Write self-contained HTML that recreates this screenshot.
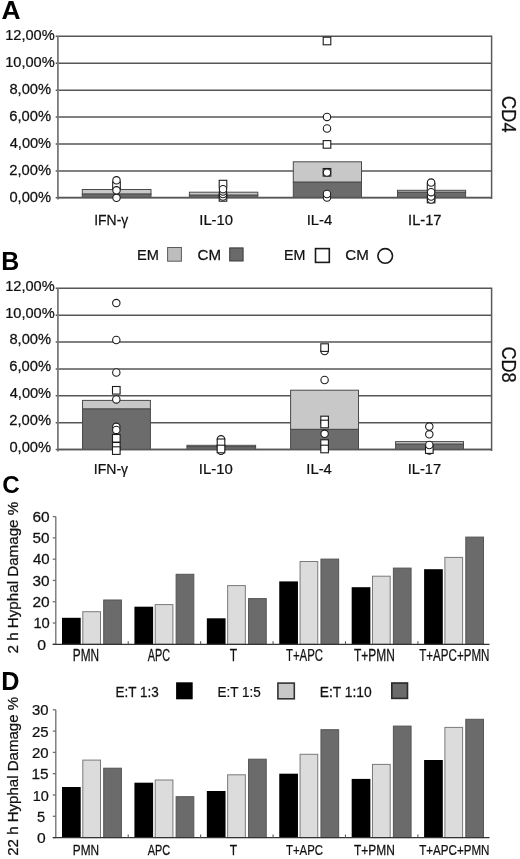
<!DOCTYPE html>
<html><head><meta charset="utf-8"><style>
html,body{margin:0;padding:0;background:#fff;}
svg{display:block;will-change:transform;font-family:"Liberation Sans",sans-serif;}
</style></head><body>
<svg width="520" height="859" viewBox="0 0 520 859">
<rect width="520" height="859" fill="#fff"/>
<line x1="55.70" y1="36.30" x2="491.60" y2="36.30" stroke="#565656" stroke-width="1.5"/>
<line x1="55.70" y1="63.22" x2="491.60" y2="63.22" stroke="#565656" stroke-width="1.5"/>
<line x1="55.70" y1="90.14" x2="491.60" y2="90.14" stroke="#565656" stroke-width="1.5"/>
<line x1="55.70" y1="117.06" x2="491.60" y2="117.06" stroke="#565656" stroke-width="1.5"/>
<line x1="55.70" y1="143.98" x2="491.60" y2="143.98" stroke="#565656" stroke-width="1.5"/>
<line x1="55.70" y1="170.90" x2="491.60" y2="170.90" stroke="#565656" stroke-width="1.5"/>
<line x1="55.70" y1="197.82" x2="491.60" y2="197.82" stroke="#565656" stroke-width="1.5"/>
<line x1="57.90" y1="36.30" x2="57.90" y2="199.50" stroke="#7a7a7a" stroke-width="1.8"/>
<line x1="491.60" y1="35.60" x2="491.60" y2="199.00" stroke="#5a5a5a" stroke-width="1.5"/>
<line x1="55.70" y1="288.30" x2="491.60" y2="288.30" stroke="#565656" stroke-width="1.5"/>
<line x1="55.70" y1="315.18" x2="491.60" y2="315.18" stroke="#565656" stroke-width="1.5"/>
<line x1="55.70" y1="342.06" x2="491.60" y2="342.06" stroke="#565656" stroke-width="1.5"/>
<line x1="55.70" y1="368.94" x2="491.60" y2="368.94" stroke="#565656" stroke-width="1.5"/>
<line x1="55.70" y1="395.82" x2="491.60" y2="395.82" stroke="#565656" stroke-width="1.5"/>
<line x1="55.70" y1="422.70" x2="491.60" y2="422.70" stroke="#565656" stroke-width="1.5"/>
<line x1="55.70" y1="449.58" x2="491.60" y2="449.58" stroke="#565656" stroke-width="1.5"/>
<line x1="57.90" y1="288.30" x2="57.90" y2="451.50" stroke="#7a7a7a" stroke-width="1.8"/>
<line x1="491.60" y1="287.60" x2="491.60" y2="451.00" stroke="#5a5a5a" stroke-width="1.5"/>
<rect x="82.30" y="189.50" width="68.70" height="4.60" fill="#c8c8c8" stroke="#4a4a4a" stroke-width="1"/>
<rect x="82.30" y="194.10" width="68.70" height="3.40" fill="#6c6c6c" stroke="#4a4a4a" stroke-width="1"/>
<rect x="189.40" y="192.20" width="68.40" height="3.00" fill="#c8c8c8" stroke="#4a4a4a" stroke-width="1"/>
<rect x="189.40" y="195.20" width="68.40" height="2.30" fill="#6c6c6c" stroke="#4a4a4a" stroke-width="1"/>
<rect x="293.30" y="161.80" width="68.20" height="20.40" fill="#c8c8c8" stroke="#4a4a4a" stroke-width="1"/>
<rect x="293.30" y="182.20" width="68.20" height="15.30" fill="#6c6c6c" stroke="#4a4a4a" stroke-width="1"/>
<rect x="397.50" y="190.30" width="68.10" height="2.00" fill="#c8c8c8" stroke="#4a4a4a" stroke-width="1"/>
<rect x="397.50" y="192.30" width="68.10" height="5.20" fill="#6c6c6c" stroke="#4a4a4a" stroke-width="1"/>
<line x1="57.90" y1="197.50" x2="491.60" y2="197.50" stroke="#565656" stroke-width="1.5"/>
<rect x="82.50" y="400.40" width="67.90" height="8.60" fill="#c8c8c8" stroke="#4a4a4a" stroke-width="1"/>
<rect x="82.50" y="409.00" width="67.90" height="40.50" fill="#6c6c6c" stroke="#4a4a4a" stroke-width="1"/>
<rect x="187.00" y="445.30" width="68.60" height="1.40" fill="#c8c8c8" stroke="#4a4a4a" stroke-width="1"/>
<rect x="187.00" y="446.70" width="68.60" height="2.80" fill="#6c6c6c" stroke="#4a4a4a" stroke-width="1"/>
<rect x="290.60" y="390.20" width="67.90" height="39.20" fill="#c8c8c8" stroke="#4a4a4a" stroke-width="1"/>
<rect x="290.60" y="429.40" width="67.90" height="20.10" fill="#6c6c6c" stroke="#4a4a4a" stroke-width="1"/>
<rect x="395.60" y="441.60" width="67.90" height="2.60" fill="#c8c8c8" stroke="#4a4a4a" stroke-width="1"/>
<rect x="395.60" y="444.20" width="67.90" height="5.30" fill="#6c6c6c" stroke="#4a4a4a" stroke-width="1"/>
<line x1="57.90" y1="449.50" x2="491.60" y2="449.50" stroke="#565656" stroke-width="1.5"/>
<rect x="112.70" y="181.70" width="7.60" height="7.60" fill="#fff" stroke="#1c1c1c" stroke-width="1.1"/>
<circle cx="116.50" cy="197.80" r="3.7" fill="#fff" stroke="#1c1c1c" stroke-width="1.1"/>
<circle cx="116.50" cy="190.30" r="3.7" fill="#fff" stroke="#1c1c1c" stroke-width="1.1"/>
<circle cx="116.50" cy="180.30" r="3.7" fill="#fff" stroke="#1c1c1c" stroke-width="1.1"/>
<rect x="219.20" y="180.30" width="7.60" height="7.60" fill="#fff" stroke="#1c1c1c" stroke-width="1.1"/>
<rect x="219.20" y="193.60" width="7.60" height="7.60" fill="#fff" stroke="#1c1c1c" stroke-width="1.1"/>
<circle cx="223.00" cy="196.50" r="3.7" fill="#fff" stroke="#1c1c1c" stroke-width="1.1"/>
<circle cx="223.00" cy="194.00" r="3.7" fill="#fff" stroke="#1c1c1c" stroke-width="1.1"/>
<circle cx="223.00" cy="191.50" r="3.7" fill="#fff" stroke="#1c1c1c" stroke-width="1.1"/>
<circle cx="223.00" cy="189.20" r="3.7" fill="#fff" stroke="#1c1c1c" stroke-width="1.1"/>
<rect x="323.20" y="37.20" width="7.60" height="7.60" fill="#fff" stroke="#1c1c1c" stroke-width="1.1"/>
<circle cx="327.00" cy="116.90" r="3.7" fill="#fff" stroke="#1c1c1c" stroke-width="1.1"/>
<circle cx="327.00" cy="128.50" r="3.7" fill="#fff" stroke="#1c1c1c" stroke-width="1.1"/>
<rect x="323.20" y="140.60" width="7.60" height="7.60" fill="#fff" stroke="#1c1c1c" stroke-width="1.1"/>
<rect x="323.20" y="168.50" width="7.60" height="7.60" fill="#fff" stroke="#1c1c1c" stroke-width="1.1"/>
<circle cx="327.00" cy="172.60" r="3.7" fill="#fff" stroke="#1c1c1c" stroke-width="1.1"/>
<circle cx="327.00" cy="197.50" r="3.7" fill="#fff" stroke="#1c1c1c" stroke-width="1.1"/>
<circle cx="327.00" cy="194.00" r="3.7" fill="#fff" stroke="#1c1c1c" stroke-width="1.1"/>
<rect x="427.30" y="195.20" width="7.60" height="7.60" fill="#fff" stroke="#1c1c1c" stroke-width="1.1"/>
<rect x="427.30" y="183.40" width="7.60" height="7.60" fill="#fff" stroke="#1c1c1c" stroke-width="1.1"/>
<circle cx="431.10" cy="199.50" r="3.7" fill="#fff" stroke="#1c1c1c" stroke-width="1.1"/>
<circle cx="431.10" cy="196.50" r="3.7" fill="#fff" stroke="#1c1c1c" stroke-width="1.1"/>
<circle cx="431.10" cy="192.20" r="3.7" fill="#fff" stroke="#1c1c1c" stroke-width="1.1"/>
<circle cx="431.10" cy="182.60" r="3.7" fill="#fff" stroke="#1c1c1c" stroke-width="1.1"/>
<circle cx="116.30" cy="303.10" r="3.7" fill="#fff" stroke="#1c1c1c" stroke-width="1.1"/>
<circle cx="116.30" cy="340.00" r="3.7" fill="#fff" stroke="#1c1c1c" stroke-width="1.1"/>
<circle cx="116.30" cy="372.50" r="3.7" fill="#fff" stroke="#1c1c1c" stroke-width="1.1"/>
<rect x="112.50" y="386.50" width="7.60" height="7.60" fill="#fff" stroke="#1c1c1c" stroke-width="1.1"/>
<circle cx="116.30" cy="399.40" r="3.7" fill="#fff" stroke="#1c1c1c" stroke-width="1.1"/>
<rect x="112.50" y="434.50" width="7.60" height="7.60" fill="#fff" stroke="#1c1c1c" stroke-width="1.1"/>
<rect x="112.50" y="442.50" width="7.60" height="7.60" fill="#fff" stroke="#1c1c1c" stroke-width="1.1"/>
<rect x="112.50" y="446.80" width="7.60" height="7.60" fill="#fff" stroke="#1c1c1c" stroke-width="1.1"/>
<circle cx="116.30" cy="426.80" r="3.7" fill="#fff" stroke="#1c1c1c" stroke-width="1.1"/>
<circle cx="116.30" cy="429.90" r="3.7" fill="#fff" stroke="#1c1c1c" stroke-width="1.1"/>
<circle cx="221.00" cy="439.30" r="3.7" fill="#fff" stroke="#1c1c1c" stroke-width="1.1"/>
<circle cx="221.00" cy="450.80" r="3.7" fill="#fff" stroke="#1c1c1c" stroke-width="1.1"/>
<rect x="217.20" y="439.00" width="7.60" height="7.60" fill="#fff" stroke="#1c1c1c" stroke-width="1.1"/>
<rect x="217.20" y="445.20" width="7.60" height="7.60" fill="#fff" stroke="#1c1c1c" stroke-width="1.1"/>
<circle cx="324.60" cy="351.00" r="3.7" fill="#fff" stroke="#1c1c1c" stroke-width="1.1"/>
<rect x="320.80" y="343.80" width="7.60" height="7.60" fill="#fff" stroke="#1c1c1c" stroke-width="1.1"/>
<circle cx="324.60" cy="380.00" r="3.7" fill="#fff" stroke="#1c1c1c" stroke-width="1.1"/>
<rect x="320.80" y="416.20" width="7.60" height="7.60" fill="#fff" stroke="#1c1c1c" stroke-width="1.1"/>
<rect x="320.80" y="420.20" width="7.60" height="7.60" fill="#fff" stroke="#1c1c1c" stroke-width="1.1"/>
<circle cx="324.60" cy="433.80" r="3.7" fill="#fff" stroke="#1c1c1c" stroke-width="1.1"/>
<rect x="320.80" y="439.80" width="7.60" height="7.60" fill="#fff" stroke="#1c1c1c" stroke-width="1.1"/>
<rect x="320.80" y="445.20" width="7.60" height="7.60" fill="#fff" stroke="#1c1c1c" stroke-width="1.1"/>
<circle cx="429.30" cy="426.60" r="3.7" fill="#fff" stroke="#1c1c1c" stroke-width="1.1"/>
<circle cx="429.30" cy="434.30" r="3.7" fill="#fff" stroke="#1c1c1c" stroke-width="1.1"/>
<circle cx="429.30" cy="450.60" r="3.7" fill="#fff" stroke="#1c1c1c" stroke-width="1.1"/>
<rect x="425.50" y="445.80" width="7.60" height="7.60" fill="#fff" stroke="#1c1c1c" stroke-width="1.1"/>
<circle cx="429.30" cy="445.00" r="3.7" fill="#fff" stroke="#1c1c1c" stroke-width="1.1"/>
<rect x="167.60" y="247.50" width="13.80" height="13.70" fill="#bdbdbd" stroke="#5a5a5a" stroke-width="1"/>
<rect x="229.70" y="247.90" width="13.40" height="13.10" fill="#6a6a6a" stroke="#3a3a3a" stroke-width="1"/>
<rect x="315.50" y="248.60" width="13.80" height="13.80" fill="#fff" stroke="#1a1a1a" stroke-width="1.6"/>
<circle cx="385.20" cy="255.90" r="7.3" fill="#fff" stroke="#1a1a1a" stroke-width="1.6"/>
<line x1="55.80" y1="516.60" x2="55.80" y2="644.30" stroke="#6e6e6e" stroke-width="1.3"/>
<line x1="52.80" y1="644.30" x2="55.80" y2="644.30" stroke="#6e6e6e" stroke-width="1.3"/>
<line x1="52.80" y1="623.02" x2="55.80" y2="623.02" stroke="#6e6e6e" stroke-width="1.3"/>
<line x1="52.80" y1="601.73" x2="55.80" y2="601.73" stroke="#6e6e6e" stroke-width="1.3"/>
<line x1="52.80" y1="580.45" x2="55.80" y2="580.45" stroke="#6e6e6e" stroke-width="1.3"/>
<line x1="52.80" y1="559.17" x2="55.80" y2="559.17" stroke="#6e6e6e" stroke-width="1.3"/>
<line x1="52.80" y1="537.88" x2="55.80" y2="537.88" stroke="#6e6e6e" stroke-width="1.3"/>
<line x1="52.80" y1="516.60" x2="55.80" y2="516.60" stroke="#6e6e6e" stroke-width="1.3"/>
<rect x="62.00" y="617.80" width="18.70" height="26.50" fill="#000"/>
<rect x="82.80" y="611.70" width="17.70" height="32.60" fill="#dcdcdc" stroke="#7a7a7a" stroke-width="1"/>
<rect x="103.70" y="600.00" width="17.70" height="44.30" fill="#6b6b6b" stroke="#555" stroke-width="1"/>
<rect x="134.42" y="606.70" width="18.70" height="37.60" fill="#000"/>
<rect x="155.22" y="604.60" width="17.70" height="39.70" fill="#dcdcdc" stroke="#7a7a7a" stroke-width="1"/>
<rect x="176.12" y="574.30" width="17.70" height="70.00" fill="#6b6b6b" stroke="#555" stroke-width="1"/>
<rect x="206.84" y="618.30" width="18.70" height="26.00" fill="#000"/>
<rect x="227.64" y="585.60" width="17.70" height="58.70" fill="#dcdcdc" stroke="#7a7a7a" stroke-width="1"/>
<rect x="248.54" y="598.60" width="17.70" height="45.70" fill="#6b6b6b" stroke="#555" stroke-width="1"/>
<rect x="279.26" y="581.40" width="18.70" height="62.90" fill="#000"/>
<rect x="300.06" y="561.50" width="17.70" height="82.80" fill="#dcdcdc" stroke="#7a7a7a" stroke-width="1"/>
<rect x="320.96" y="559.10" width="17.70" height="85.20" fill="#6b6b6b" stroke="#555" stroke-width="1"/>
<rect x="351.68" y="587.20" width="18.70" height="57.10" fill="#000"/>
<rect x="372.48" y="576.20" width="17.70" height="68.10" fill="#dcdcdc" stroke="#7a7a7a" stroke-width="1"/>
<rect x="393.38" y="568.10" width="17.70" height="76.20" fill="#6b6b6b" stroke="#555" stroke-width="1"/>
<rect x="424.10" y="569.20" width="18.70" height="75.10" fill="#000"/>
<rect x="444.90" y="557.40" width="17.70" height="86.90" fill="#dcdcdc" stroke="#7a7a7a" stroke-width="1"/>
<rect x="465.80" y="537.10" width="17.70" height="107.20" fill="#6b6b6b" stroke="#555" stroke-width="1"/>
<line x1="52.80" y1="644.30" x2="489.50" y2="644.30" stroke="#333" stroke-width="1.2"/>
<line x1="128.22" y1="641.30" x2="128.22" y2="644.30" stroke="#555" stroke-width="1.1"/>
<line x1="200.64" y1="641.30" x2="200.64" y2="644.30" stroke="#555" stroke-width="1.1"/>
<line x1="273.06" y1="641.30" x2="273.06" y2="644.30" stroke="#555" stroke-width="1.1"/>
<line x1="345.48" y1="641.30" x2="345.48" y2="644.30" stroke="#555" stroke-width="1.1"/>
<line x1="417.90" y1="641.30" x2="417.90" y2="644.30" stroke="#555" stroke-width="1.1"/>
<line x1="55.80" y1="709.80" x2="55.80" y2="837.60" stroke="#6e6e6e" stroke-width="1.3"/>
<line x1="52.80" y1="837.60" x2="55.80" y2="837.60" stroke="#6e6e6e" stroke-width="1.3"/>
<line x1="52.80" y1="816.30" x2="55.80" y2="816.30" stroke="#6e6e6e" stroke-width="1.3"/>
<line x1="52.80" y1="795.00" x2="55.80" y2="795.00" stroke="#6e6e6e" stroke-width="1.3"/>
<line x1="52.80" y1="773.70" x2="55.80" y2="773.70" stroke="#6e6e6e" stroke-width="1.3"/>
<line x1="52.80" y1="752.40" x2="55.80" y2="752.40" stroke="#6e6e6e" stroke-width="1.3"/>
<line x1="52.80" y1="731.10" x2="55.80" y2="731.10" stroke="#6e6e6e" stroke-width="1.3"/>
<line x1="52.80" y1="709.80" x2="55.80" y2="709.80" stroke="#6e6e6e" stroke-width="1.3"/>
<rect x="62.00" y="787.00" width="18.70" height="50.60" fill="#000"/>
<rect x="82.80" y="760.10" width="17.70" height="77.50" fill="#dcdcdc" stroke="#7a7a7a" stroke-width="1"/>
<rect x="103.70" y="768.20" width="17.70" height="69.40" fill="#6b6b6b" stroke="#555" stroke-width="1"/>
<rect x="134.42" y="782.70" width="18.70" height="54.90" fill="#000"/>
<rect x="155.22" y="780.00" width="17.70" height="57.60" fill="#dcdcdc" stroke="#7a7a7a" stroke-width="1"/>
<rect x="176.12" y="796.70" width="17.70" height="40.90" fill="#6b6b6b" stroke="#555" stroke-width="1"/>
<rect x="206.84" y="791.00" width="18.70" height="46.60" fill="#000"/>
<rect x="227.64" y="774.80" width="17.70" height="62.80" fill="#dcdcdc" stroke="#7a7a7a" stroke-width="1"/>
<rect x="248.54" y="759.20" width="17.70" height="78.40" fill="#6b6b6b" stroke="#555" stroke-width="1"/>
<rect x="279.26" y="773.70" width="18.70" height="63.90" fill="#000"/>
<rect x="300.06" y="754.30" width="17.70" height="83.30" fill="#dcdcdc" stroke="#7a7a7a" stroke-width="1"/>
<rect x="320.96" y="729.70" width="17.70" height="107.90" fill="#6b6b6b" stroke="#555" stroke-width="1"/>
<rect x="351.68" y="778.90" width="18.70" height="58.70" fill="#000"/>
<rect x="372.48" y="764.40" width="17.70" height="73.20" fill="#dcdcdc" stroke="#7a7a7a" stroke-width="1"/>
<rect x="393.38" y="726.10" width="17.70" height="111.50" fill="#6b6b6b" stroke="#555" stroke-width="1"/>
<rect x="424.10" y="760.00" width="18.70" height="77.60" fill="#000"/>
<rect x="444.90" y="727.40" width="17.70" height="110.20" fill="#dcdcdc" stroke="#7a7a7a" stroke-width="1"/>
<rect x="465.80" y="719.30" width="17.70" height="118.30" fill="#6b6b6b" stroke="#555" stroke-width="1"/>
<line x1="52.80" y1="837.60" x2="489.50" y2="837.60" stroke="#333" stroke-width="1.2"/>
<line x1="128.22" y1="834.60" x2="128.22" y2="837.60" stroke="#555" stroke-width="1.1"/>
<line x1="200.64" y1="834.60" x2="200.64" y2="837.60" stroke="#555" stroke-width="1.1"/>
<line x1="273.06" y1="834.60" x2="273.06" y2="837.60" stroke="#555" stroke-width="1.1"/>
<line x1="345.48" y1="834.60" x2="345.48" y2="837.60" stroke="#555" stroke-width="1.1"/>
<line x1="417.90" y1="834.60" x2="417.90" y2="837.60" stroke="#555" stroke-width="1.1"/>
<rect x="176.10" y="682.30" width="16.60" height="17.00" fill="#000"/>
<rect x="277.90" y="683.10" width="16.40" height="15.70" fill="#c8c8c8" stroke="#333" stroke-width="1.6"/>
<rect x="391.80" y="683.00" width="15.70" height="15.40" fill="#6a6a6a" stroke="#2a2a2a" stroke-width="1.6"/>
<text transform="translate(1.41,18.80) scale(1.0336,1)" font-size="25.51" font-weight="700" fill="#000" stroke="#000" stroke-width="0">A</text>
<text transform="translate(1.36,269.70) scale(0.9605,1)" font-size="25.94" font-weight="700" fill="#000" stroke="#000" stroke-width="0">B</text>
<text transform="translate(2.13,493.30) scale(0.9804,1)" font-size="24.64" font-weight="700" fill="#000" stroke="#000" stroke-width="0">C</text>
<text transform="translate(1.13,690.00) scale(0.9624,1)" font-size="26.23" font-weight="700" fill="#000" stroke="#000" stroke-width="0">D</text>
<text transform="translate(5.18,40.30) scale(0.9879,1)" font-size="14.78" font-weight="400" fill="#111" stroke="#111" stroke-width="0.25">12,00%</text>
<text transform="translate(5.18,67.22) scale(0.9879,1)" font-size="14.78" font-weight="400" fill="#111" stroke="#111" stroke-width="0.25">10,00%</text>
<text transform="translate(9.41,94.14) scale(0.9951,1)" font-size="14.78" font-weight="400" fill="#111" stroke="#111" stroke-width="0.25">8,00%</text>
<text transform="translate(9.26,121.06) scale(0.9987,1)" font-size="14.78" font-weight="400" fill="#111" stroke="#111" stroke-width="0.25">6,00%</text>
<text transform="translate(9.71,147.98) scale(0.9879,1)" font-size="14.78" font-weight="400" fill="#111" stroke="#111" stroke-width="0.25">4,00%</text>
<text transform="translate(9.26,174.90) scale(0.9987,1)" font-size="14.78" font-weight="400" fill="#111" stroke="#111" stroke-width="0.25">2,00%</text>
<text transform="translate(9.41,201.82) scale(0.9951,1)" font-size="14.78" font-weight="400" fill="#111" stroke="#111" stroke-width="0.25">0,00%</text>
<text transform="translate(5.18,290.70) scale(0.9879,1)" font-size="14.78" font-weight="400" fill="#111" stroke="#111" stroke-width="0.25">12,00%</text>
<text transform="translate(5.18,317.58) scale(0.9879,1)" font-size="14.78" font-weight="400" fill="#111" stroke="#111" stroke-width="0.25">10,00%</text>
<text transform="translate(9.41,344.46) scale(0.9951,1)" font-size="14.78" font-weight="400" fill="#111" stroke="#111" stroke-width="0.25">8,00%</text>
<text transform="translate(9.26,371.34) scale(0.9987,1)" font-size="14.78" font-weight="400" fill="#111" stroke="#111" stroke-width="0.25">6,00%</text>
<text transform="translate(9.71,398.22) scale(0.9879,1)" font-size="14.78" font-weight="400" fill="#111" stroke="#111" stroke-width="0.25">4,00%</text>
<text transform="translate(9.26,425.10) scale(0.9987,1)" font-size="14.78" font-weight="400" fill="#111" stroke="#111" stroke-width="0.25">2,00%</text>
<text transform="translate(9.41,451.98) scale(0.9951,1)" font-size="14.78" font-weight="400" fill="#111" stroke="#111" stroke-width="0.25">0,00%</text>
<text transform="translate(94.25,224.50) scale(0.8973,1)" font-size="15.51" font-weight="400" fill="#111" stroke="#111" stroke-width="0.25">IFN-γ</text>
<text transform="translate(199.26,224.50) scale(0.9568,1)" font-size="15.51" font-weight="400" fill="#111" stroke="#111" stroke-width="0.25">IL-10</text>
<text transform="translate(306.66,224.50) scale(0.9592,1)" font-size="15.51" font-weight="400" fill="#111" stroke="#111" stroke-width="0.25">IL-4</text>
<text transform="translate(408.08,224.50) scale(0.9462,1)" font-size="15.51" font-weight="400" fill="#111" stroke="#111" stroke-width="0.25">IL-17</text>
<text transform="translate(93.84,473.80) scale(0.9113,1)" font-size="15.36" font-weight="400" fill="#111" stroke="#111" stroke-width="0.25">IFN-γ</text>
<text transform="translate(198.86,473.80) scale(0.9688,1)" font-size="15.36" font-weight="400" fill="#111" stroke="#111" stroke-width="0.25">IL-10</text>
<text transform="translate(306.26,473.80) scale(0.9683,1)" font-size="15.36" font-weight="400" fill="#111" stroke="#111" stroke-width="0.25">IL-4</text>
<text transform="translate(407.68,473.80) scale(0.9551,1)" font-size="15.36" font-weight="400" fill="#111" stroke="#111" stroke-width="0.25">IL-17</text>
<text transform="translate(136.93,259.90) scale(1.0405,1)" font-size="14.06" font-weight="400" fill="#111" stroke="#111" stroke-width="0.25">EM</text>
<text transform="translate(197.54,259.70) scale(1.0660,1)" font-size="14.20" font-weight="400" fill="#111" stroke="#111" stroke-width="0.25">CM</text>
<text transform="translate(284.06,260.30) scale(1.0036,1)" font-size="14.20" font-weight="400" fill="#111" stroke="#111" stroke-width="0.25">EM</text>
<text transform="translate(345.24,260.30) scale(1.0447,1)" font-size="14.49" font-weight="400" fill="#111" stroke="#111" stroke-width="0.25">CM</text>
<text transform="translate(502.40,95.78) rotate(90) scale(0.8922,1)" font-size="20.72" font-weight="400" fill="#111" stroke="#111" stroke-width="0.25">CD4</text>
<text transform="translate(502.30,346.39) rotate(90) scale(0.8620,1)" font-size="21.01" font-weight="400" fill="#111" stroke="#111" stroke-width="0.25">CD8</text>
<text transform="translate(37.17,649.60) scale(1.0307,1)" font-size="15.36" font-weight="400" fill="#111" stroke="#111" stroke-width="0.25">0</text>
<text transform="translate(33.42,628.32) scale(0.9600,1)" font-size="15.36" font-weight="400" fill="#111" stroke="#111" stroke-width="0.25">10</text>
<text transform="translate(32.43,607.03) scale(1.0083,1)" font-size="15.36" font-weight="400" fill="#111" stroke="#111" stroke-width="0.25">20</text>
<text transform="translate(32.59,585.75) scale(0.9985,1)" font-size="15.36" font-weight="400" fill="#111" stroke="#111" stroke-width="0.25">30</text>
<text transform="translate(32.90,564.47) scale(0.9795,1)" font-size="15.36" font-weight="400" fill="#111" stroke="#111" stroke-width="0.25">40</text>
<text transform="translate(32.59,543.18) scale(0.9985,1)" font-size="15.36" font-weight="400" fill="#111" stroke="#111" stroke-width="0.25">50</text>
<text transform="translate(32.43,521.90) scale(1.0083,1)" font-size="15.36" font-weight="400" fill="#111" stroke="#111" stroke-width="0.25">60</text>
<text transform="translate(18.30,653.46) rotate(-90) scale(0.9783,1)" font-size="15.51" font-weight="400" fill="#111" stroke="#111" stroke-width="0.25">2 h Hyphal Damage %</text>
<text transform="translate(72.85,661.30) scale(0.7567,1)" font-size="15.65" font-weight="400" fill="#111" stroke="#111" stroke-width="0.25">PMN</text>
<text transform="translate(147.70,661.30) scale(0.6961,1)" font-size="15.65" font-weight="400" fill="#111" stroke="#111" stroke-width="0.25">APC</text>
<text transform="translate(229.66,661.30) scale(0.7734,1)" font-size="15.65" font-weight="400" fill="#111" stroke="#111" stroke-width="0.25">T</text>
<text transform="translate(285.97,661.30) scale(0.7290,1)" font-size="15.65" font-weight="400" fill="#111" stroke="#111" stroke-width="0.25">T+APC</text>
<text transform="translate(354.06,661.30) scale(0.7640,1)" font-size="15.65" font-weight="400" fill="#111" stroke="#111" stroke-width="0.25">T+PMN</text>
<text transform="translate(419.17,661.30) scale(0.7418,1)" font-size="15.65" font-weight="400" fill="#111" stroke="#111" stroke-width="0.25">T+APC+PMN</text>
<text transform="translate(115.52,696.70) scale(0.8939,1)" font-size="15.07" font-weight="400" fill="#111" stroke="#111" stroke-width="0.25">E:T 1:3</text>
<text transform="translate(217.62,696.70) scale(0.9115,1)" font-size="14.78" font-weight="400" fill="#111" stroke="#111" stroke-width="0.25">E:T 1:5</text>
<text transform="translate(319.69,696.80) scale(0.9367,1)" font-size="14.78" font-weight="400" fill="#111" stroke="#111" stroke-width="0.25">E:T 1:10</text>
<text transform="translate(36.88,843.10) scale(1.0171,1)" font-size="15.36" font-weight="400" fill="#111" stroke="#111" stroke-width="0.25">0</text>
<text transform="translate(37.11,821.80) scale(0.9556,1)" font-size="15.36" font-weight="400" fill="#111" stroke="#111" stroke-width="0.25">5</text>
<text transform="translate(32.64,800.50) scale(0.9403,1)" font-size="15.36" font-weight="400" fill="#111" stroke="#111" stroke-width="0.25">10</text>
<text transform="translate(31.46,779.20) scale(1.0060,1)" font-size="15.36" font-weight="400" fill="#111" stroke="#111" stroke-width="0.25">15</text>
<text transform="translate(31.95,757.90) scale(0.9764,1)" font-size="15.36" font-weight="400" fill="#111" stroke="#111" stroke-width="0.25">20</text>
<text transform="translate(31.95,736.60) scale(0.9764,1)" font-size="15.36" font-weight="400" fill="#111" stroke="#111" stroke-width="0.25">25</text>
<text transform="translate(32.11,715.30) scale(0.9669,1)" font-size="15.36" font-weight="400" fill="#111" stroke="#111" stroke-width="0.25">30</text>
<text transform="translate(18.30,855.75) rotate(-90) scale(0.9704,1)" font-size="15.51" font-weight="400" fill="#111" stroke="#111" stroke-width="0.25">22 h Hyphal Damage %</text>
<text transform="translate(72.85,854.60) scale(0.7638,1)" font-size="15.51" font-weight="400" fill="#111" stroke="#111" stroke-width="0.25">PMN</text>
<text transform="translate(147.70,854.60) scale(0.7026,1)" font-size="15.51" font-weight="400" fill="#111" stroke="#111" stroke-width="0.25">APC</text>
<text transform="translate(229.66,854.60) scale(0.7806,1)" font-size="15.51" font-weight="400" fill="#111" stroke="#111" stroke-width="0.25">T</text>
<text transform="translate(285.97,854.60) scale(0.7358,1)" font-size="15.51" font-weight="400" fill="#111" stroke="#111" stroke-width="0.25">T+APC</text>
<text transform="translate(354.06,854.60) scale(0.7711,1)" font-size="15.51" font-weight="400" fill="#111" stroke="#111" stroke-width="0.25">T+PMN</text>
<text transform="translate(419.17,854.60) scale(0.7487,1)" font-size="15.51" font-weight="400" fill="#111" stroke="#111" stroke-width="0.25">T+APC+PMN</text>
</svg>
</body></html>
